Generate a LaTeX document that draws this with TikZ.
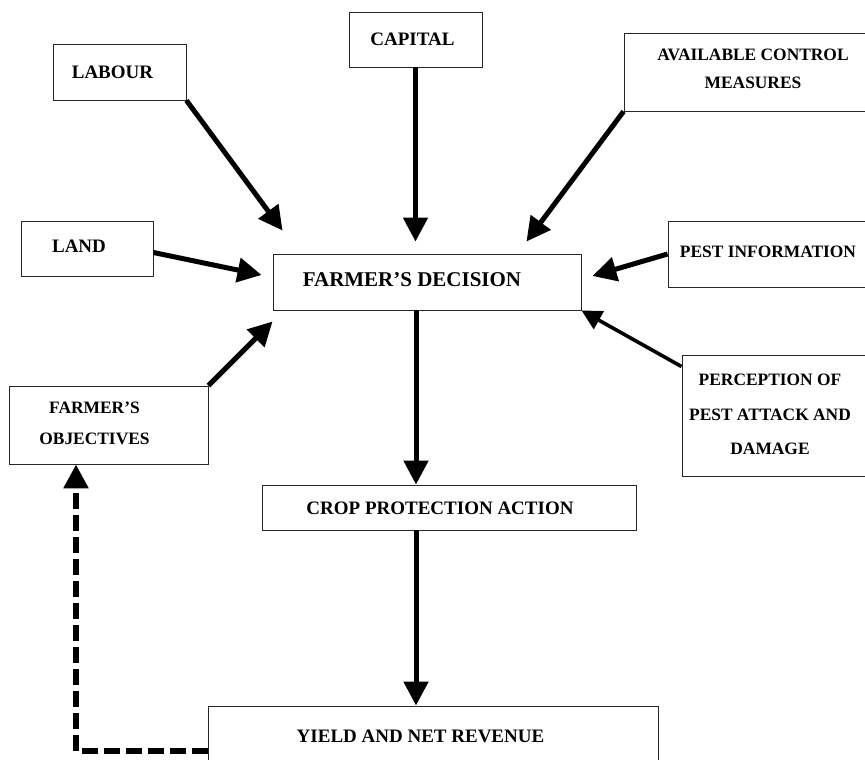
\documentclass[tikz,border=0pt]{standalone}
\usepackage{fontspec}
\setmainfont{Liberation Serif}
\usetikzlibrary{arrows.meta}
\tikzset{
  box/.style={draw=black!85,line width=0.9pt,inner sep=0pt},
  txt/.style={font=\bfseries\fontsize{19}{23}\selectfont,align=center},
  txts/.style={font=\bfseries\fontsize{17.4}{28}\selectfont,align=center},
  arr/.style={line width=5pt,-{Triangle[length=24pt,width=24pt]}},
  thin arr/.style={line width=3.6pt,-{Triangle[length=20pt,width=20pt]}},
  fb/.style={line width=5.5pt,dash pattern=on 16pt off 6pt,-{Triangle[length=24pt,width=24pt]}}
}
\begin{document}
\begin{tikzpicture}[x=1pt,y=-1pt]
		\useasboundingbox (0,0) rectangle (865,760);
		% boxes
		\node[box,minimum width=133pt,minimum height=56pt,label={[txt,xshift=-7pt]center:LABOUR}] (labour) at (119.5,72) {};
		\node[box,minimum width=133pt,minimum height=55pt,label={[txt,xshift=-3pt]center:CAPITAL}] (capital) at (415.5,39.5) {};
		\node[box,minimum width=258pt,minimum height=78pt,label={[txts,yshift=3pt]center:{AVAILABLE CONTROL\\MEASURES}}] (control) at (753,72) {};
		\node[box,minimum width=132pt,minimum height=55pt,label={[txt,xshift=-8pt,yshift=2pt]center:LAND}] (land) at (87,248.5) {};
		\node[box,minimum width=308pt,minimum height=56pt,label={[txt,font=\bfseries\fontsize{21}{25}\selectfont,xshift=-15pt,yshift=2.5pt]center:FARMER’S DECISION}] (decision) at (427,282) {};
		\node[box,minimum width=200pt,minimum height=66pt,label={[txts,yshift=2pt]center:PEST INFORMATION}] (pestinfo) at (768,254) {};
		\node[box,minimum width=188pt,minimum height=121pt,label={[txts,xshift=-6pt,yshift=1pt]center:{PERCEPTION OF\\[6.5pt]PEST ATTACK AND\\[6.5pt]DAMAGE}}] (perception) at (776,415.5) {};
		\node[box,minimum width=199pt,minimum height=78pt,label={[txts,xshift=-14pt,yshift=2pt]center:{FARMER’S\\[3pt]OBJECTIVES}}] (objectives) at (108.5,425) {};
		\node[box,minimum width=374pt,minimum height=45pt,label={[txt,xshift=-9pt,yshift=-1pt]center:CROP PROTECTION ACTION}] (action) at (449,507.5) {};
		\node[box,minimum width=450pt,minimum height=90pt,label={[txt,xshift=-12.5pt,yshift=14.5pt]center:YIELD AND NET REVENUE}] (yield) at (433,751) {};
		% arrows into the decision
		\draw[arr] (labour.south east)--([xshift=10pt,yshift=23pt]decision.north west);
		\draw[arr] (capital.south)--([yshift=12pt]capital.south |- decision.north);
		\draw[arr] (control.south west)--([xshift=-55pt,yshift=12pt]decision.north east);
		\draw[arr] ([yshift=-4pt]land.east)--([xshift=-11pt,yshift=7pt]decision.west);
		\draw[arr] (pestinfo.west)--([xshift=11pt,yshift=6pt]decision.east);
		\draw[thin arr] ([yshift=-12pt]perception.north west)--(decision.south east);
		\draw[arr] (objectives.north east)--([yshift=-11pt]decision.south west);
		% down the chain
		\draw[arr] ([xshift=-11pt]decision.south)--([xshift=-11pt]decision.south |- action.north);
		\draw[arr] ([xshift=-11pt]decision.south |- action.south)--([xshift=-11pt]decision.south |- yield.north);
		\draw[fb] (yield.west)-|([xshift=-32.5pt]objectives.south);
\end{tikzpicture}
\end{document}
